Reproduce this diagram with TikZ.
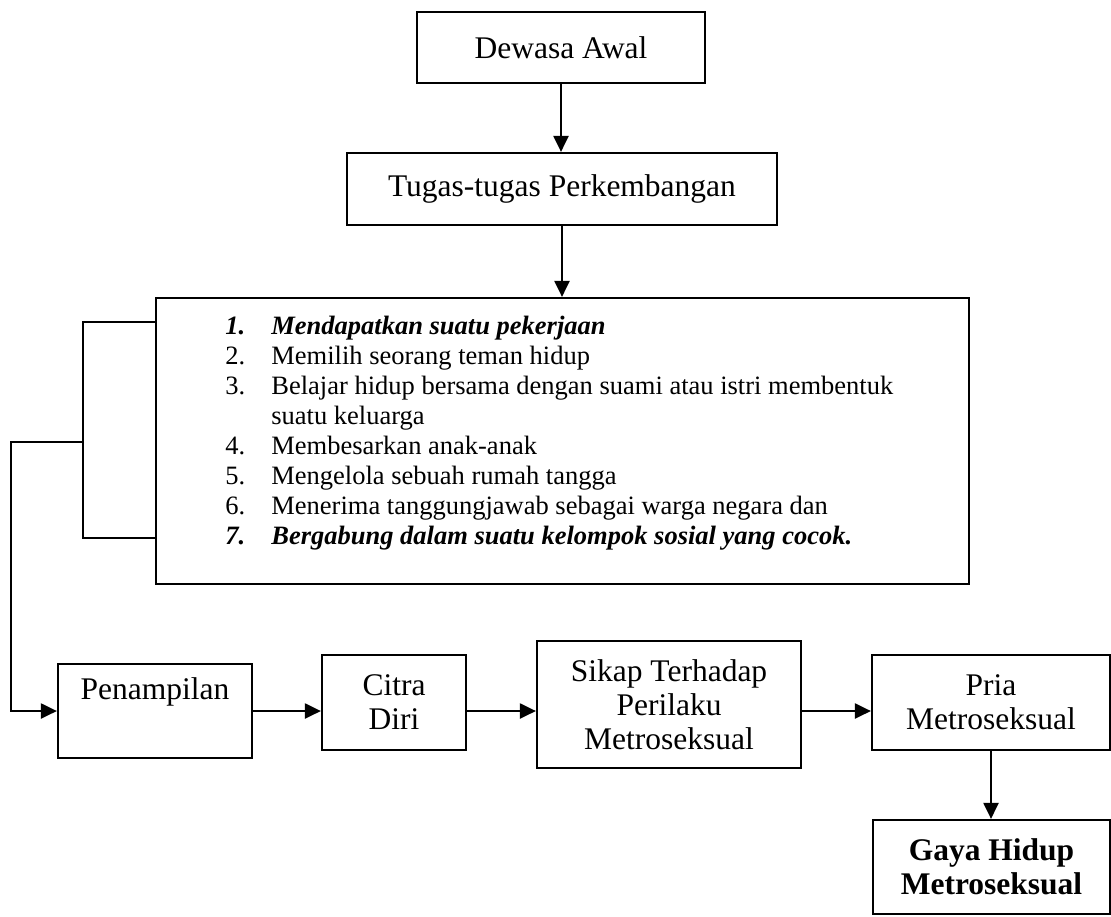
\documentclass[tikz,border=0pt]{standalone}
\usepackage{fontspec}
\setmainfont{Liberation Serif}
\usetikzlibrary{arrows.meta,calc}

\tikzset{
  kotak/.style={draw, line width=1.1pt, align=center, inner sep=0pt,
    font=\fontsize{15.75}{17}\selectfont},
  panah/.style={-{Triangle[length=8pt,width=7.5pt]}, line width=1.1pt},
  garis/.style={line width=1.1pt},
}

\begin{document}
\begin{tikzpicture}[x=0.5pt,y=-0.5pt]
      \useasboundingbox (0,0) rectangle (1111,916);
      % atas
      \node[kotak, minimum width=144pt, minimum height=35.5pt] (dewasa) at (561,47.5) {Dewasa Awal};
      \node[kotak, minimum width=215pt, minimum height=36pt] (tugas) at (562,189) {Tugas-tugas Perkembangan};
      \node[kotak, minimum width=406.5pt, minimum height=143pt] (daftar) at (562.5,441) {};
      \node[anchor=north west, inner sep=0pt, font=\fontsize{13.25}{15}\selectfont] (isi) at (225,313) {%
        \begin{tabular}{@{}p{23pt}@{}l@{}}
          \textbf{\textit{1.}} & \textbf{\textit{Mendapatkan suatu pekerjaan}}\\
          2. & Memilih seorang teman hidup\\
          3. & Belajar hidup bersama dengan suami atau istri membentuk\\
             & suatu keluarga\\
          4. & Membesarkan anak-anak\\
          5. & Mengelola sebuah rumah tangga\\
          6. & Menerima tanggungjawab sebagai warga negara dan\\
          \textbf{\textit{7.}} & \textbf{\textit{Bergabung dalam suatu kelompok sosial yang cocok.}}
        \end{tabular}};
      \draw[panah] (dewasa.south) -- (dewasa.south |- tugas.north);
      \draw[panah] (tugas.south) -- (tugas.south |- daftar.north);
      % kurung kiri
      \draw[garis] ($(daftar.north west)+(0,25)$) -- ++(-72,0) |- ($(daftar.south west)+(0,-47)$);
      \coordinate (cabang) at (84,442);
      % bawah
      \node[kotak, minimum width=97pt, minimum height=47pt] (tampil) at (155,711) {Penampilan\\ \strut};
      \node[kotak, minimum width=72pt, minimum height=47.5pt] (citra) at (394,702.5) {Citra\\ Diri};
      \node[kotak, minimum width=132pt, minimum height=63.5pt] (sikap) at (669,704.5) {Sikap Terhadap\\ Perilaku\\ Metroseksual};
      \node[kotak, minimum width=119pt, minimum height=47.5pt] (pria) at (991,702.5) {Pria\\ Metroseksual};
      \node[kotak, minimum width=118.5pt, minimum height=47pt, font=\fontsize{15.75}{17}\selectfont\bfseries] (gaya) at (991.5,867) {Gaya Hidup\\ Metroseksual};
      \draw[panah] (cabang) -- ++(-73,0) |- (tampil.west);
      \draw[panah] (tampil.east) -- (tampil.east -| citra.west);
      \draw[panah] (citra.east |- tampil.east) -- (sikap.west |- tampil.east);
      \draw[panah] (sikap.east |- tampil.east) -- (pria.west |- tampil.east);
      \draw[panah] (pria.south) -- (pria.south |- gaya.north);
    \end{tikzpicture}
\end{document}
